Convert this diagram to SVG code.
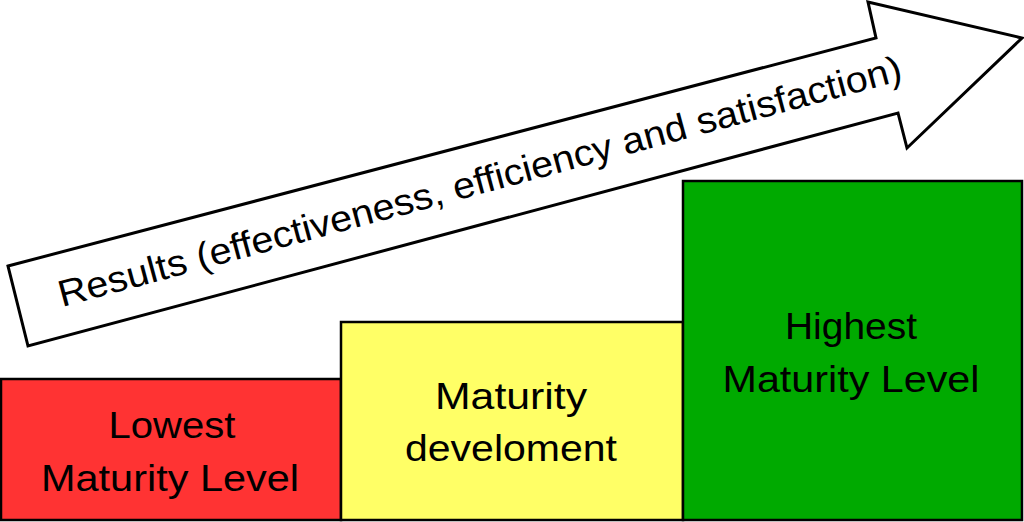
<svg xmlns="http://www.w3.org/2000/svg" width="1024" height="522" viewBox="0 0 1024 522">
<style>
.box{stroke:#000;stroke-width:2.5}
.t{font-family:"Liberation Sans",Arial,sans-serif;font-size:37px;fill:#000;text-anchor:middle}
</style>
<rect width="1024" height="522" fill="#fff"/>
<g id="arrow">
<polygon points="8,266 876,38 868,2 1022,38 907,148 898,113 28,346" fill="#fff" stroke="#000" stroke-width="3" stroke-linejoin="miter"/>
<text x="62" y="307" transform="rotate(-15.1 62 307)" font-family="Liberation Sans, Arial, sans-serif" font-size="37" textLength="872" lengthAdjust="spacingAndGlyphs">Results (effectiveness, efficiency and satisfaction)</text>
</g>
<g id="low">
<rect class="box" x="1" y="379" width="340" height="141" fill="#FF3333"/>
<text class="t" x="172" y="438" textLength="127" lengthAdjust="spacingAndGlyphs">Lowest</text>
<text class="t" x="170" y="491" textLength="258" lengthAdjust="spacingAndGlyphs">Maturity Level</text>
</g>
<g id="mid">
<rect class="box" x="341" y="322" width="342" height="198" fill="#FFFF66"/>
<text class="t" x="511" y="409" textLength="152" lengthAdjust="spacingAndGlyphs">Maturity</text>
<text class="t" x="511" y="461" textLength="212" lengthAdjust="spacingAndGlyphs">develoment</text>
</g>
<g id="high">
<rect class="box" x="683" y="181" width="339" height="339" fill="#00AA00"/>
<text class="t" x="851" y="339" textLength="132" lengthAdjust="spacingAndGlyphs">Highest</text>
<text class="t" x="851" y="392" textLength="257" lengthAdjust="spacingAndGlyphs">Maturity Level</text>
</g>
<g id="connectors"></g>
</svg>
